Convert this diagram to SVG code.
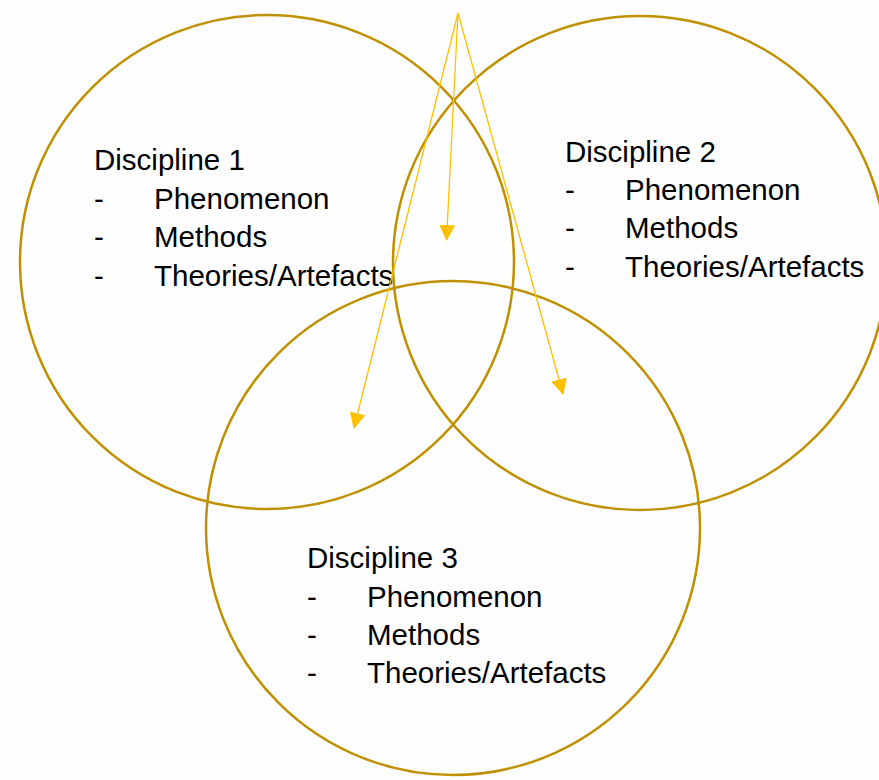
<svg xmlns="http://www.w3.org/2000/svg" width="879" height="780" viewBox="0 0 879 780">
<defs>
<style>
.ring{fill:none;stroke:#BF9000;stroke-width:2.5}
.conn{fill:none;stroke:#FFC000;stroke-width:1.3}
.t{font-family:"Liberation Sans",Arial,sans-serif;font-size:29.5px;fill:#000}
</style>
<marker id="ah" viewBox="0 0 16 16" refX="15" refY="8" markerWidth="16" markerHeight="16" markerUnits="userSpaceOnUse" orient="auto">
<path d="M0,0 L16,8 L0,16 Z" fill="#FFC000"/>
</marker>
</defs>
<rect width="879" height="780" fill="#fefefe"/>
<g id="discipline1">
<circle class="ring" cx="267" cy="262" r="247"/>
<text class="t" x="94" y="170">Discipline 1</text>
<text class="t" x="94" y="209">-</text><text class="t" x="154" y="209">Phenomenon</text>
<text class="t" x="94" y="247">-</text><text class="t" x="154" y="247">Methods</text>
<text class="t" x="94" y="286">-</text><text class="t" x="154" y="286">Theories/Artefacts</text>
</g>
<g id="discipline2">
<circle class="ring" cx="640" cy="263" r="247"/>
<text class="t" x="565" y="162">Discipline 2</text>
<text class="t" x="565" y="200">-</text><text class="t" x="625" y="200">Phenomenon</text>
<text class="t" x="565" y="238">-</text><text class="t" x="625" y="238">Methods</text>
<text class="t" x="565" y="277">-</text><text class="t" x="625" y="277">Theories/Artefacts</text>
</g>
<g id="discipline3">
<circle class="ring" cx="453" cy="528" r="247"/>
<text class="t" x="307" y="568">Discipline 3</text>
<text class="t" x="307" y="607">-</text><text class="t" x="367" y="607">Phenomenon</text>
<text class="t" x="307" y="645">-</text><text class="t" x="367" y="645">Methods</text>
<text class="t" x="307" y="683">-</text><text class="t" x="367" y="683">Theories/Artefacts</text>
</g>
<g id="connectors">
<line class="conn" x1="458" y1="13" x2="446.5" y2="240" marker-end="url(#ah)"/>
<line class="conn" x1="458" y1="13" x2="354" y2="428" marker-end="url(#ah)"/>
<line class="conn" x1="458" y1="13" x2="563" y2="394" marker-end="url(#ah)"/>
</g>
</svg>
